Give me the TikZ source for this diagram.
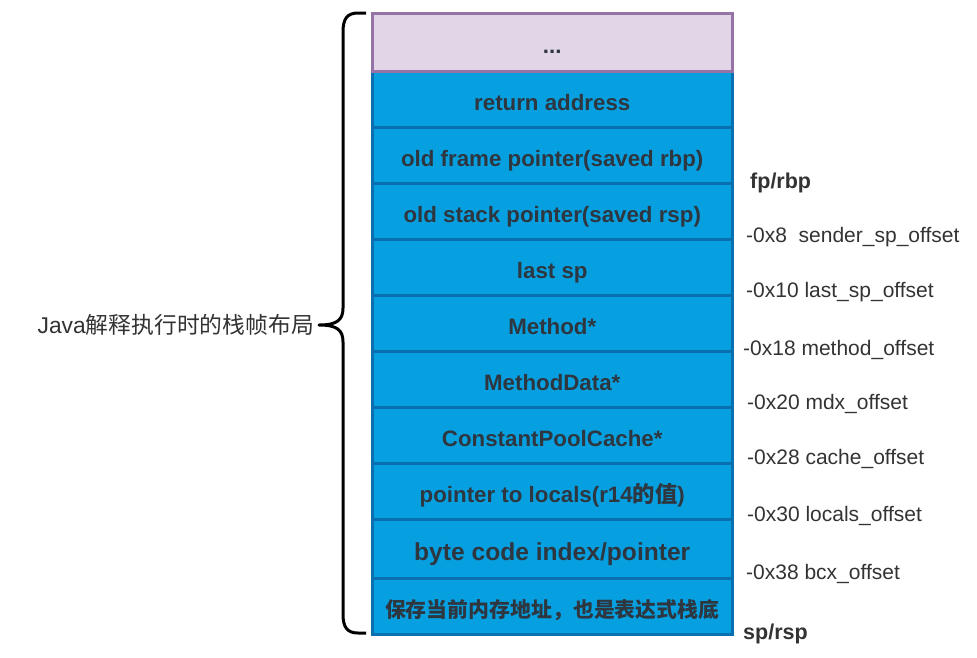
\documentclass[tikz,border=0pt]{standalone}
\usepackage{fontspec}
\setmainfont{Liberation Sans}
\newfontfamily\cjk{Noto Sans CJK SC}
\definecolor{rowblue}{HTML}{06A0E0}
\definecolor{rowline}{HTML}{0A6FAE}
\definecolor{topfill}{HTML}{E1D5E7}
\definecolor{topline}{HTML}{9673A6}
\definecolor{txt}{HTML}{2E3640}
\definecolor{lbl}{HTML}{333333}
\begin{document}
\begin{tikzpicture}[x=1pt,y=-1pt,
  cell/.style={draw=rowline, fill=rowblue, line width=2.5pt, anchor=north west,
    minimum width=360pt, inner sep=0pt, text height=22pt, text depth=0pt, text=txt,
    font=\fontsize{22.3}{24}\selectfont\bfseries},
  topcell/.style={cell, draw=topline, fill=topfill},
  off/.style={anchor=west, inner sep=0pt, text=lbl, font=\fontsize{21}{24}\selectfont},
  offb/.style={off, font=\fontsize{21.5}{24}\selectfont\bfseries}]
\useasboundingbox (0,0) rectangle (977,657);
\node[cell, minimum height=56pt] (r1) at (371,70) {return address};
\node[cell, minimum height=56pt] (r2) at (371,126) {old frame pointer(saved rbp)};
\node[cell, minimum height=56pt] (r3) at (371,182) {old stack pointer(saved rsp)};
\node[cell, minimum height=56pt] (r4) at (371,238) {last sp};
\node[cell, minimum height=56pt] (r5) at (371,294) {Method*};
\node[cell, minimum height=56pt] (r6) at (371,350) {MethodData*};
\node[cell, minimum height=56pt] (r7) at (371,406) {ConstantPoolCache*};
\node[cell, minimum height=56pt] (r8) at (371,462) {pointer to locals(r14{\cjk\bfseries 的值})};
\node[cell, minimum height=59pt, text height=23pt, font=\fontsize{24.6}{28}\selectfont\bfseries] (r9) at (371,518) {byte code index/pointer};
\node[cell, minimum height=56pt, font=\fontsize{20.9}{24}\selectfont\bfseries] (r10) at (371,577) {\cjk\bfseries 保存当前内存地址，也是表达式栈底};
\node[topcell, minimum height=58pt] (r0) at (371,12) {...};
% brace
\draw[line width=3pt, line join=round] (366,13) -- (358,13) .. controls (347,13) and (343,19) .. (343,32)
  -- (343,308) .. controls (343,320) and (337,325) .. (319,325)
  .. controls (337,325) and (343,330) .. (343,342)
  -- (343,614) .. controls (343,627) and (347,633) .. (358,633) -- (366,633);
\node[anchor=east, inner sep=0pt, text=lbl, font=\fontsize{22.8}{24}\selectfont] (title) at (314,325) {Java{\cjk 解释执行时的栈帧布局}};
% offsets
\node[offb] (fp) at (750,183) {fp/rbp};
\node[off] (o8) at (746,237) {-0x8\ \ sender\_sp\_offset};
\node[off] (o10) at (746,292) {-0x10 last\_sp\_offset};
\node[off] (o18) at (743,350) {-0x18 method\_offset};
\node[off] (o20) at (747,404) {-0x20 mdx\_offset};
\node[off] (o28) at (747,459) {-0x28 cache\_offset};
\node[off] (o30) at (747,516) {-0x30 locals\_offset};
\node[off] (o38) at (746,574) {-0x38 bcx\_offset};
\node[offb] (sp) at (743,634) {sp/rsp};
\end{tikzpicture}
\end{document}
